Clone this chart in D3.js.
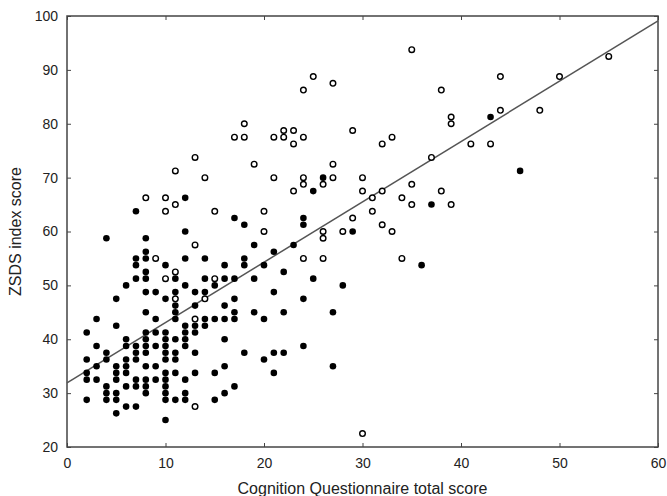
<html>
  <head>
    <title>ZSDS vs Cognition Questionnaire</title>
    <meta charset="utf-8" />
    <script src="https://d3js.org/d3.v7.min.js"></script>
  </head>
  <style>
    body {
      margin: 0;
      background: #ffffff;
    }
    svg {
      font-family: "Liberation Sans", Arial, sans-serif;
    }
    .axis text {
      font-size: 14px;
      fill: #222222;
    }
    .axis line {
      stroke: #444444;
    }
    .axis path.domain {
      display: none;
    }
  </style>
  <body>
    <svg width="667" height="496"></svg>
  </body>
  <footer>
    <script>
      // tick labels
      const xTicks = [0, 10, 20, 30, 40, 50, 60];
      const yTicks = [20, 30, 40, 50, 60, 70, 80, 90, 100];

      // filled points: [score, ZSDS]
      const filledPoints = [
        [2, 41.25], [2, 36.25], [2, 33.75], [2, 32.5], [2, 28.75],
        [3, 43.75], [3, 38.75], [3, 35], [3, 32.5],
        [4, 58.75], [4, 37.5], [4, 36.25], [4, 31.25], [4, 30], [4, 28.75],
        [5, 47.5], [5, 42.5], [5, 35], [5, 33.75], [5, 32.5], [5, 30], [5, 28.75], [5, 26.25],
        [6, 50], [6, 40], [6, 38.75], [6, 36.25], [6, 35], [6, 33.75], [6, 31.25], [6, 27.5],
        [7, 63.75], [7, 55], [7, 53.75], [7, 51.25], [7, 38.75], [7, 37.5], [7, 36.25], [7, 32.5], [7, 31.25], [7, 27.5],
        [8, 58.75], [8, 56.25], [8, 55], [8, 52.5], [8, 51.25], [8, 48.75], [8, 45], [8, 41.25], [8, 40],
        [8, 38.75], [8, 37.5], [8, 35], [8, 32.5], [8, 31.25], [8, 30],
        [9, 48.75], [9, 43.75], [9, 41.25], [9, 38.75], [9, 35], [9, 32.5],
        [10, 53.75], [10, 47.5], [10, 41.25], [10, 40], [10, 38.75], [10, 37.5], [10, 36.25], [10, 33.75],
        [10, 32.5], [10, 31.25], [10, 30], [10, 28.75], [10, 25],
        [11, 51.25], [11, 48.75], [11, 46.25], [11, 45], [11, 43.75], [11, 40], [11, 37.5], [11, 36.25], [11, 33.75], [11, 28.75],
        [12, 66.25], [12, 60], [12, 55], [12, 50], [12, 42.5], [12, 41.25], [12, 40], [12, 38.75], [12, 32.5], [12, 30], [12, 28.75],
        [13, 48.75], [13, 46.25], [13, 42.5], [13, 41.25], [13, 37.5], [13, 33.75],
        [14, 55], [14, 51.25], [14, 48.75], [14, 43.75], [14, 42.5],
        [15, 50], [15, 43.75], [15, 33.75], [15, 28.75],
        [16, 53.75], [16, 51.25], [16, 46.25], [16, 43.75], [16, 40], [16, 35], [16, 30],
        [17, 62.5], [17, 51.25], [17, 47.5], [17, 45], [17, 43.75], [17, 31.25],
        [18, 61.25], [18, 55], [18, 53.75], [18, 37.5],
        [19, 57.5], [19, 51.25], [19, 45],
        [20, 53.75], [20, 43.75], [20, 36.25],
        [21, 56.25], [21, 48.75], [21, 37.5], [21, 33.75],
        [22, 52.5], [22, 45], [22, 37.5],
        [23, 57.5],
        [24, 62.5], [24, 61.25], [24, 47.5], [24, 38.75],
        [25, 67.5], [25, 51.25],
        [26, 70],
        [27, 45], [27, 35],
        [28, 50],
        [29, 60],
        [36, 53.75],
        [37, 65],
        [43, 81.25],
        [46, 71.25]
      ];

      // open points: [score, ZSDS]
      const openPoints = [
        [8, 66.25],
        [9, 55],
        [10, 66.25], [10, 63.75], [10, 51.25],
        [11, 71.25], [11, 65], [11, 52.5], [11, 47.5],
        [13, 73.75], [13, 57.5], [13, 43.75], [13, 27.5],
        [14, 70], [14, 47.5],
        [15, 63.75], [15, 51.25],
        [17, 77.5],
        [18, 80], [18, 77.5],
        [19, 72.5],
        [20, 63.75], [20, 60],
        [21, 77.5], [21, 70],
        [22, 78.75], [22, 77.5],
        [23, 78.75], [23, 76.25], [23, 67.5],
        [24, 86.25], [24, 77.5], [24, 70], [24, 68.75], [24, 55],
        [25, 88.75],
        [26, 68.75], [26, 60], [26, 58.75], [26, 55],
        [27, 87.5], [27, 72.5], [27, 70],
        [28, 60],
        [29, 78.75], [29, 62.5],
        [30, 70], [30, 67.5], [30, 22.5],
        [31, 66.25], [31, 63.75],
        [32, 76.25], [32, 67.5], [32, 61.25],
        [33, 77.5], [33, 60],
        [34, 66.25], [34, 55],
        [35, 93.75], [35, 68.75], [35, 65],
        [37, 73.75],
        [38, 86.25], [38, 67.5],
        [39, 81.25], [39, 80], [39, 65],
        [41, 76.25],
        [43, 76.25],
        [44, 88.75], [44, 82.5],
        [48, 82.5],
        [50, 88.75],
        [55, 92.5]
      ];

      // fitted line: intercept and slope
      const fitIntercept = 31.9;
      const fitSlope = 1.12;

      const svg = d3.select("svg");

      const xScale = d3.scaleLinear().domain([0, 60]).range([67, 658]);
      const yScale = d3.scaleLinear().domain([20, 100]).range([447, 16]);

      // axes with inward ticks
      svg.append("g")
        .attr("class", "axis")
        .attr("transform", "translate(0,447)")
        .call(d3.axisBottom(xScale).tickValues(xTicks).tickSizeInner(-4).tickSizeOuter(0).tickPadding(11));

      svg.append("g")
        .attr("class", "axis")
        .attr("transform", "translate(67,0)")
        .call(d3.axisLeft(yScale).tickValues(yTicks).tickSizeInner(-4).tickSizeOuter(0).tickPadding(9));

      svg.append("g")
        .attr("class", "axis")
        .attr("transform", "translate(658,0)")
        .call(d3.axisRight(yScale).tickValues(yTicks).tickSizeInner(-4).tickSizeOuter(0).tickFormat(""));

      svg.append("g")
        .attr("class", "axis")
        .attr("transform", "translate(0,16)")
        .call(d3.axisTop(xScale).tickValues(xTicks).tickSizeInner(-4).tickSizeOuter(0).tickFormat(""));

      // frame
      svg.append("rect")
        .attr("x", xScale(0))
        .attr("y", yScale(100))
        .attr("width", xScale(60) - xScale(0))
        .attr("height", yScale(20) - yScale(100))
        .attr("fill", "none")
        .attr("stroke", "#444444")
        .attr("stroke-width", 1.5);

      // regression line
      svg.append("line")
        .attr("x1", xScale(0))
        .attr("y1", yScale(fitIntercept))
        .attr("x2", xScale(60))
        .attr("y2", yScale(fitIntercept + fitSlope * 60))
        .attr("stroke", "#555555")
        .attr("stroke-width", 1.5);

      svg.selectAll("circle.filled")
        .data(filledPoints)
        .enter()
        .append("circle")
        .attr("class", "filled")
        .attr("r", 3.3)
        .attr("cx", (d) => xScale(d[0]))
        .attr("cy", (d) => yScale(d[1]))
        .style("fill", "#000000");

      svg.selectAll("circle.open")
        .data(openPoints)
        .enter()
        .append("circle")
        .attr("class", "open")
        .attr("r", 2.8)
        .attr("cx", (d) => xScale(d[0]))
        .attr("cy", (d) => yScale(d[1]))
        .style("fill", "#ffffff")
        .style("stroke", "#000000")
        .style("stroke-width", 1.4);

      // axis titles
      svg.append("text")
        .attr("x", (xScale(0) + xScale(60)) / 2)
        .attr("y", 494)
        .attr("text-anchor", "middle")
        .style("font-size", "16px")
        .style("fill", "#222222")
        .text("Cognition Questionnaire total score");

      svg.append("text")
        .attr("transform", "translate(21," + yScale(60) + ") rotate(-90)")
        .attr("text-anchor", "middle")
        .style("font-size", "16px")
        .style("fill", "#222222")
        .text("ZSDS index score");
    </script>
  </footer>
</html>
